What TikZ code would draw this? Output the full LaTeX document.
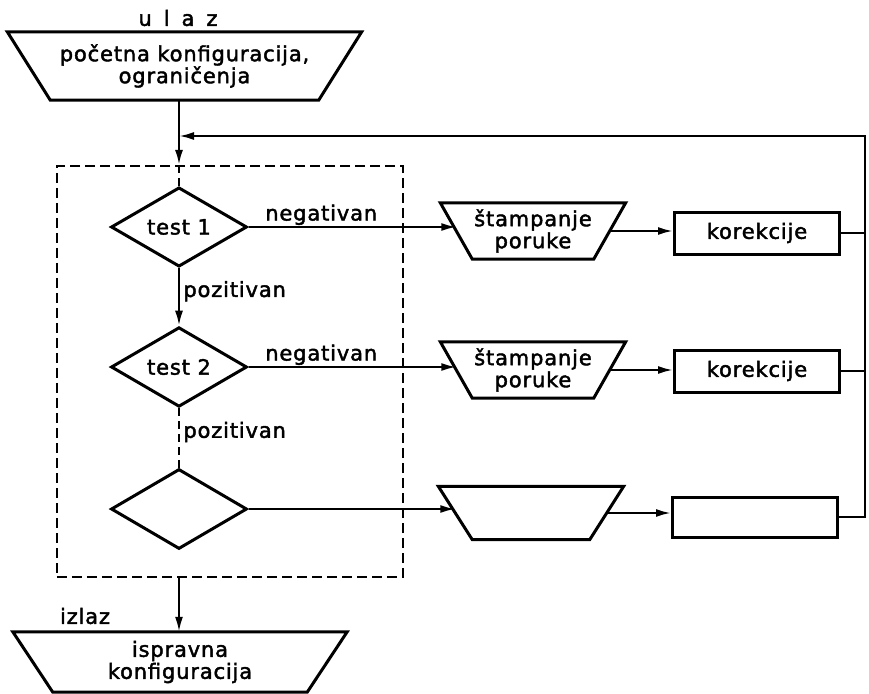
\documentclass[tikz,border=0pt]{standalone}
\usepackage{fontspec}
\setmainfont{DejaVu Sans}[LetterSpace=4, FakeBold=2]
\usetikzlibrary{shapes.geometric,arrows.meta,positioning}

\tikzstyle{decision} = [diamond, draw, line width=3bp, inner sep=0pt,
minimum width=136bp, minimum height=77bp]
\tikzstyle{io} = [rectangle, align=center, inner sep=1bp]
\tikzstyle{outline} = [draw, line width=3bp, line join=miter]
\tikzstyle{block} = [rectangle, draw, line width=3bp, minimum width=165bp, minimum height=42bp]
\tikzstyle{group} = [rectangle, draw, line width=2.2bp, dash pattern=on 10bp off 5bp]
\tikzstyle{line} = [draw, line width=2.2bp, -{Latex[length=15bp,width=8bp]}]
\tikzstyle{wire} = [draw, line width=2.2bp]

\begin{document}
\begin{tikzpicture}[x=1bp, y=-1bp, font=\fontsize{21bp}{22bp}\selectfont]
		\useasboundingbox (0,0) rectangle (869,694);

		\node [io, minimum width=311bp, minimum height=68bp] (ulaz) at (184.5,66) {početna konfiguracija,\\ograničenja};
		\node (ulazlabel) at (178,18) {u\hspace{12bp}l\hspace{12bp}a\hspace{12bp}z};

		\node [group, minimum width=346bp, minimum height=411bp] (frame) at (230,371.5) {};
		\node [decision] (test1) at (179,227) {test 1};
		\node [decision] (test2) at (179,367) {test 2};
		\node [decision, minimum height=80bp] (test3) at (179,509) {};

		\node [io, minimum width=153bp, minimum height=56bp] (print1) at (533,231) {štampanje\\poruke};
		\node [io, minimum width=153bp, minimum height=56bp] (print2) at (533,370) {štampanje\\poruke};
		\node [io, minimum width=151bp, minimum height=53bp] (print3) at (531,513) {};

		\node [block] (kor1) at (757,233) {korekcije};
		\node [block] (kor2) at (757,371) {korekcije};
		\node [block, minimum height=40bp] (kor3) at (755,517) {};

		\node [io, minimum width=294bp, minimum height=60bp] (izlaz) at (180,662) {ispravna\\konfiguracija};
		\node (izlazlabel) at (85,616) {izlaz};

		\foreach \n/\d in {ulaz/21.5, print1/16, print2/16, print3/17, izlaz/20}
			\draw [outline] ([xshift=-\d bp]\n.north west) -- ([xshift=\d bp]\n.north east)
				-- ([xshift=-\d bp]\n.south east) -- ([xshift=\d bp]\n.south west) -- cycle;

		\coordinate (bus) at (865,136);

		\path [line] (test1 |- ulaz.south) -- (test1 |- frame.north);
		\path [wire, dash pattern=on 8bp off 5bp] (test1 |- frame.north) -- (test1.north);
		\path [line] (test1) -- node [right, pos=0.4] {pozitivan} (test2);
		\path [wire, dash pattern=on 8bp off 5bp] (test2) -- node [right, pos=0.4] {pozitivan} (test3);
		\path [line] (test3 |- frame.south) -- (test3 |- izlaz.north);

		\path [line] (test1.east) -- node [above, pos=0.35, inner sep=1bp] {negativan} (test1.east -| print1.west);
		\path [line] (test2.east) -- node [above, pos=0.35, inner sep=1bp] {negativan} (test2.east -| print2.west);
		\path [line] (test3.east) -- (test3.east -| print3.west);

		\path [line] (print1.east) -- (print1.east -| kor1.west);
		\path [line] (print2.east) -- (print2.east -| kor2.west);
		\path [line] (print3.east) -- (print3.east -| kor3.west);

		\path [wire] (kor1.east) -- (kor1.east -| bus);
		\path [wire] (kor2.east) -- (kor2.east -| bus);
		\path [line] (kor3.east) -| (bus) -- (test1 |- bus);
	\end{tikzpicture}
\end{document}
